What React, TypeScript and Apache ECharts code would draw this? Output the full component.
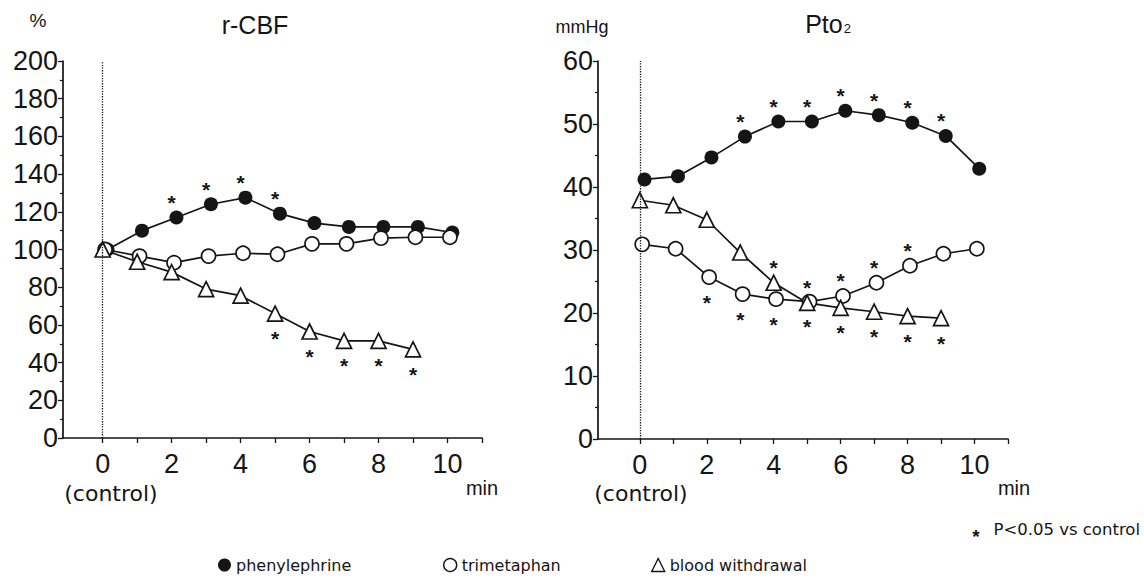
import React, { useEffect, useRef } from "react";
import * as echarts from "echarts";

// ---- data ----
const minutes = [0, 1, 2, 3, 4, 5, 6, 7, 8, 9, 10];
const xTickLabels = ["0", "2", "4", "6", "8", "10"];
const xTickMarks = [0, 1, 2, 3, 4, 5, 6, 7, 8, 9, 10, 11];

const cbfPhenylephrine = [100, 110, 117, 124, 127.5, 119, 114, 112, 112, 112, 109];
const cbfTrimetaphan = [100, 96.5, 93, 96.5, 98, 97.5, 103, 103, 106, 106.5, 106.5];
const cbfBloodWithdrawal = [100, 93.5, 88, 79, 75.5, 66, 56.5, 51.5, 51.5, 47];

const ptoPhenylephrine = [41.2, 41.7, 44.7, 48, 50.4, 50.4, 52.1, 51.4, 50.2, 48.1, 42.9];
const ptoTrimetaphan = [30.9, 30.2, 25.7, 23, 22.2, 21.8, 22.7, 24.8, 27.5, 29.4, 30.2];
const ptoBloodWithdrawal = [37.9, 37.1, 34.8, 29.6, 24.8, 21.6, 20.8, 20.2, 19.5, 19.2];

// significance: 1 = asterisk above the point, -1 = below, 0 = none
const cbfPhenylephrineSig = [0, 0, 1, 1, 1, 1, 0, 0, 0, 0, 0];
const cbfTrimetaphanSig = [0, 0, 0, 0, 0, 0, 0, 0, 0, 0, 0];
const cbfBloodWithdrawalSig = [0, 0, 0, 0, 0, -1, -1, -1, -1, -1];
const ptoPhenylephrineSig = [0, 0, 0, 1, 1, 1, 1, 1, 1, 1, 0];
const ptoTrimetaphanSig = [0, 0, -1, -1, -1, -1, 1, 1, 1, 0, 0];
const ptoBloodWithdrawalSig = [0, 0, 0, 0, 1, 1, -1, -1, -1, -1];

const seriesNames = ["phenylephrine", "trimetaphan", "blood withdrawal"];

// ---- style ----
const INK = "#151515";
const NUM_FONT = "Liberation Sans";
const WIDE_FONT = "DejaVu Sans";

const LEFT_GRID = { left: 63, top: 61, width: 419, height: 377 };
const RIGHT_GRID = { left: 598, top: 61, width: 410, height: 378 };
const LEFT_XMIN = -1.15;
const RIGHT_XMIN = -1.25;
const XMAX = 11;

const DODGE = { phen: 0.14, trim: 0.07, bw: 0 };

function buildData(ys: number[], sig: number[], dodge: number, pxPerMin: number) {
  return ys.map((v, i) => {
    const item: any = { value: [minutes[i] + dodge, v] };
    if (sig[i]) {
      item.label = {
        show: true,
        formatter: "*",
        position: "inside",
        offset: [-dodge * pxPerMin, sig[i] > 0 ? -15 : 25],
        fontSize: 21,
        fontWeight: "bold",
        color: INK,
        fontFamily: NUM_FONT,
      };
    }
    return item;
  });
}

function filledSeries(name: string, idx: number, data: any[]) {
  return {
    name,
    type: "line",
    xAxisIndex: idx,
    yAxisIndex: idx,
    data,
    symbol: "circle",
    symbolSize: 14,
    lineStyle: { color: INK, width: 1.7 },
    itemStyle: { color: INK },
    label: { show: false },
    z: 3,
    markLine: {
      silent: true,
      symbol: "none",
      label: { show: false },
      lineStyle: { type: "dotted", color: INK, width: 1.3 },
      data: [{ xAxis: 0 }],
    },
  };
}

function openSeries(name: string, idx: number, data: any[], symbol: string, size: number) {
  return {
    name,
    type: "line",
    xAxisIndex: idx,
    yAxisIndex: idx,
    data,
    symbol,
    symbolSize: size,
    lineStyle: { color: INK, width: 1.7 },
    itemStyle: { color: "#fff", borderColor: INK, borderWidth: 1.7 },
    label: { show: false },
    z: 4,
  };
}

function xAxisCfg(idx: number, min: number) {
  return {
    type: "value",
    gridIndex: idx,
    min,
    max: XMAX,
    axisLine: { show: true, onZero: false, lineStyle: { color: INK, width: 1.7 } },
    axisTick: { show: true, length: 5, customValues: xTickMarks, lineStyle: { color: INK, width: 1.3 } },
    axisLabel: {
      customValues: xTickLabels.map(Number),
      formatter: (v: number) => String(v),
      fontSize: 27,
      color: INK,
      fontFamily: NUM_FONT,
      margin: 12,
    },
    splitLine: { show: false },
  };
}

function yAxisCfg(idx: number, max: number, interval: number) {
  return {
    type: "value",
    gridIndex: idx,
    min: 0,
    max,
    interval,
    axisLine: { show: true, onZero: false, lineStyle: { color: INK, width: 1.7 } },
    axisTick: { show: true, length: 5, lineStyle: { color: INK, width: 1.3 } },
    minorTick: { show: true, splitNumber: 2, length: 3, lineStyle: { color: INK, width: 1.2 } },
    axisLabel: { fontSize: 27, color: INK, fontFamily: NUM_FONT, margin: 5 },
    splitLine: { show: false },
    minorSplitLine: { show: false },
  };
}

function legendFor(name: string, left: number, icon: string, itemStyle: any) {
  return {
    left,
    top: 552,
    itemWidth: 13,
    itemHeight: 13,
    selectedMode: false,
    textStyle: { fontSize: 16, color: INK, fontFamily: WIDE_FONT },
    data: [{ name, icon, itemStyle }],
  };
}

export default function App() {
  const ref = useRef<HTMLDivElement>(null);

  useEffect(() => {
    if (!ref.current) return;
    const chart = echarts.init(ref.current, null, { renderer: "svg" });
    const lPx = LEFT_GRID.width / (XMAX - LEFT_XMIN);
    const rPx = RIGHT_GRID.width / (XMAX - RIGHT_XMIN);

    const option: any = {
      animation: false,
      backgroundColor: "#fff",
      grid: [
        { ...LEFT_GRID, containLabel: false },
        { ...RIGHT_GRID, containLabel: false },
      ],
      xAxis: [xAxisCfg(0, LEFT_XMIN), xAxisCfg(1, RIGHT_XMIN)],
      yAxis: [yAxisCfg(0, 200, 20), yAxisCfg(1, 60, 10)],
      legend: [
        legendFor(seriesNames[0], 213, "circle", { color: INK, borderWidth: 0 }),
        legendFor(seriesNames[1], 438, "circle", { color: "#fff", borderColor: INK, borderWidth: 1.4 }),
        legendFor(seriesNames[2], 646, "triangle", { color: "#fff", borderColor: INK, borderWidth: 1.4 }),
      ],
      graphic: [
        { type: "text", x: 38, y: 20, style: { text: "%", fontSize: 19, fill: INK, fontFamily: NUM_FONT, align: "center", verticalAlign: "middle" } },
        { type: "text", x: 255, y: 25, style: { text: "r-CBF", fontSize: 25, fill: INK, fontFamily: NUM_FONT, align: "center", verticalAlign: "middle" } },
        { type: "text", x: 582, y: 27, style: { text: "mmHg", fontSize: 18, fill: INK, fontFamily: NUM_FONT, align: "center", verticalAlign: "middle" } },
        {
          type: "text",
          x: 828,
          y: 24,
          style: {
            text: "{m|Pto}{s|2}",
            align: "center",
            verticalAlign: "middle",
            fill: INK,
            rich: {
              m: { fontSize: 25, fontFamily: NUM_FONT, fill: INK, verticalAlign: "bottom" },
              s: { fontSize: 13, fontFamily: NUM_FONT, fill: INK, verticalAlign: "bottom", padding: [0, 0, 2, 1] },
            },
          },
        },
        { type: "text", x: 111, y: 493, style: { text: "(control)", fontSize: 22, fill: INK, fontFamily: WIDE_FONT, align: "center", verticalAlign: "middle" } },
        { type: "text", x: 641, y: 493, style: { text: "(control)", fontSize: 22, fill: INK, fontFamily: WIDE_FONT, align: "center", verticalAlign: "middle" } },
        { type: "text", x: 482, y: 488, style: { text: "min", fontSize: 20, fill: INK, fontFamily: NUM_FONT, align: "center", verticalAlign: "middle" } },
        { type: "text", x: 1014, y: 488, style: { text: "min", fontSize: 20, fill: INK, fontFamily: NUM_FONT, align: "center", verticalAlign: "middle" } },
        { type: "text", x: 976, y: 536, style: { text: "*", fontSize: 19, fontWeight: "bold", fill: INK, fontFamily: NUM_FONT, align: "center", verticalAlign: "middle" } },
        { type: "text", x: 1140, y: 529, style: { text: "P<0.05 vs control", fontSize: 16.5, fill: INK, fontFamily: WIDE_FONT, align: "right", verticalAlign: "middle" } },
      ],
      series: [
        filledSeries(seriesNames[0], 0, buildData(cbfPhenylephrine, cbfPhenylephrineSig, DODGE.phen, lPx)),
        openSeries(seriesNames[1], 0, buildData(cbfTrimetaphan, cbfTrimetaphanSig, DODGE.trim, lPx), "circle", 14),
        openSeries(seriesNames[2], 0, buildData(cbfBloodWithdrawal, cbfBloodWithdrawalSig, DODGE.bw, lPx), "triangle", 15),
        filledSeries(seriesNames[0], 1, buildData(ptoPhenylephrine, ptoPhenylephrineSig, DODGE.phen, rPx)),
        openSeries(seriesNames[1], 1, buildData(ptoTrimetaphan, ptoTrimetaphanSig, DODGE.trim, rPx), "circle", 14),
        openSeries(seriesNames[2], 1, buildData(ptoBloodWithdrawal, ptoBloodWithdrawalSig, DODGE.bw, rPx), "triangle", 15),
      ],
    };

    chart.setOption(option);
    return () => chart.dispose();
  }, []);

  return (
    <div
      ref={ref}
      style={{ position: "absolute", left: 0, top: 0, width: 1144, height: 580, background: "#fff" }}
    />
  );
}
